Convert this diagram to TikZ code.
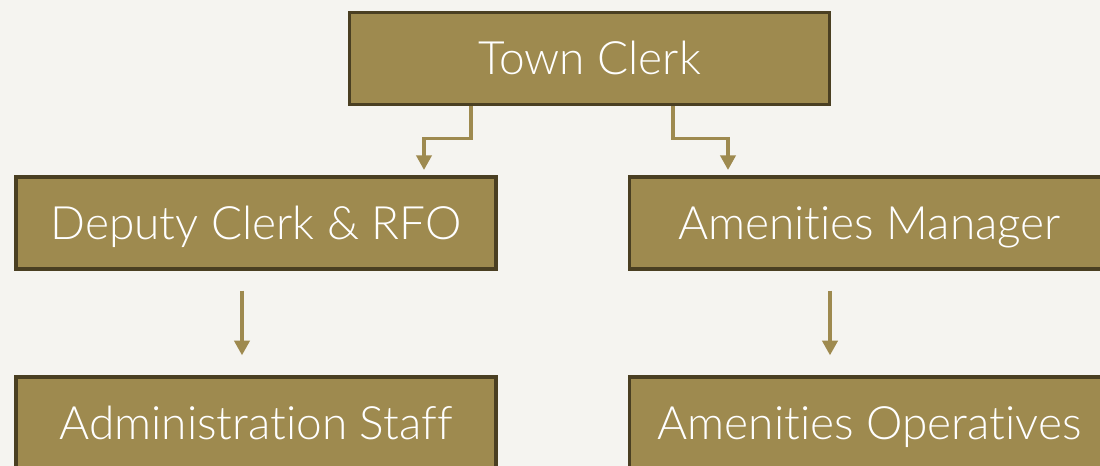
\documentclass[tikz,border=0pt]{standalone}
\usepackage{fontspec}
\setmainfont[Ligatures=NoCommon]{Lato Light}
\usetikzlibrary{arrows.meta,calc}
\definecolor{bgc}{HTML}{F5F4F0}
\definecolor{boxfill}{HTML}{9E8A4F}
\definecolor{boxline}{HTML}{4A3F22}
\begin{document}
\begin{tikzpicture}[x=0.75pt,y=-0.75pt,
  box/.style={draw=boxline,fill=boxfill,line width=2.6pt,minimum width=360pt,minimum height=69pt,
    inner sep=0pt,text=white,font=\fontsize{34.5}{40}\selectfont,text height=24.75pt,text depth=0pt},
  conn/.style={draw=boxfill,line width=2.4pt,-{Triangle[width=11.5pt,length=11pt]}}]
\useasboundingbox[fill=bgc] (0,0) rectangle (1100,466);
\node[box] (tc) at (589.5,58.5) {Town Clerk};
\node[box] (dc) at (256,223) {Deputy Clerk \& RFO};
\node[box] (am) at (869.5,223) {Amenities Manager};
\node[box] (as) at (256,423) {Administration Staff};
\node[box] (ao) at (869.5,423) {Amenities Operatives};
\draw[conn,shorten >=4pt] ($(tc.south)+(-118.5,0)$) -- ++(0,32) -| ($(dc.north)+(168,0)$);
\draw[conn,shorten >=4pt] ($(tc.south)+(83.5,0)$) -- ++(0,32) -| ($(am.north)+(-141.5,0)$);
\draw[conn] ($(dc.south)+(-14,20)$) -- ($(as.north)+(-14,-20)$);
\draw[conn] ($(am.south)+(-39.5,20)$) -- ($(ao.north)+(-39.5,-20)$);
\end{tikzpicture}
\end{document}
